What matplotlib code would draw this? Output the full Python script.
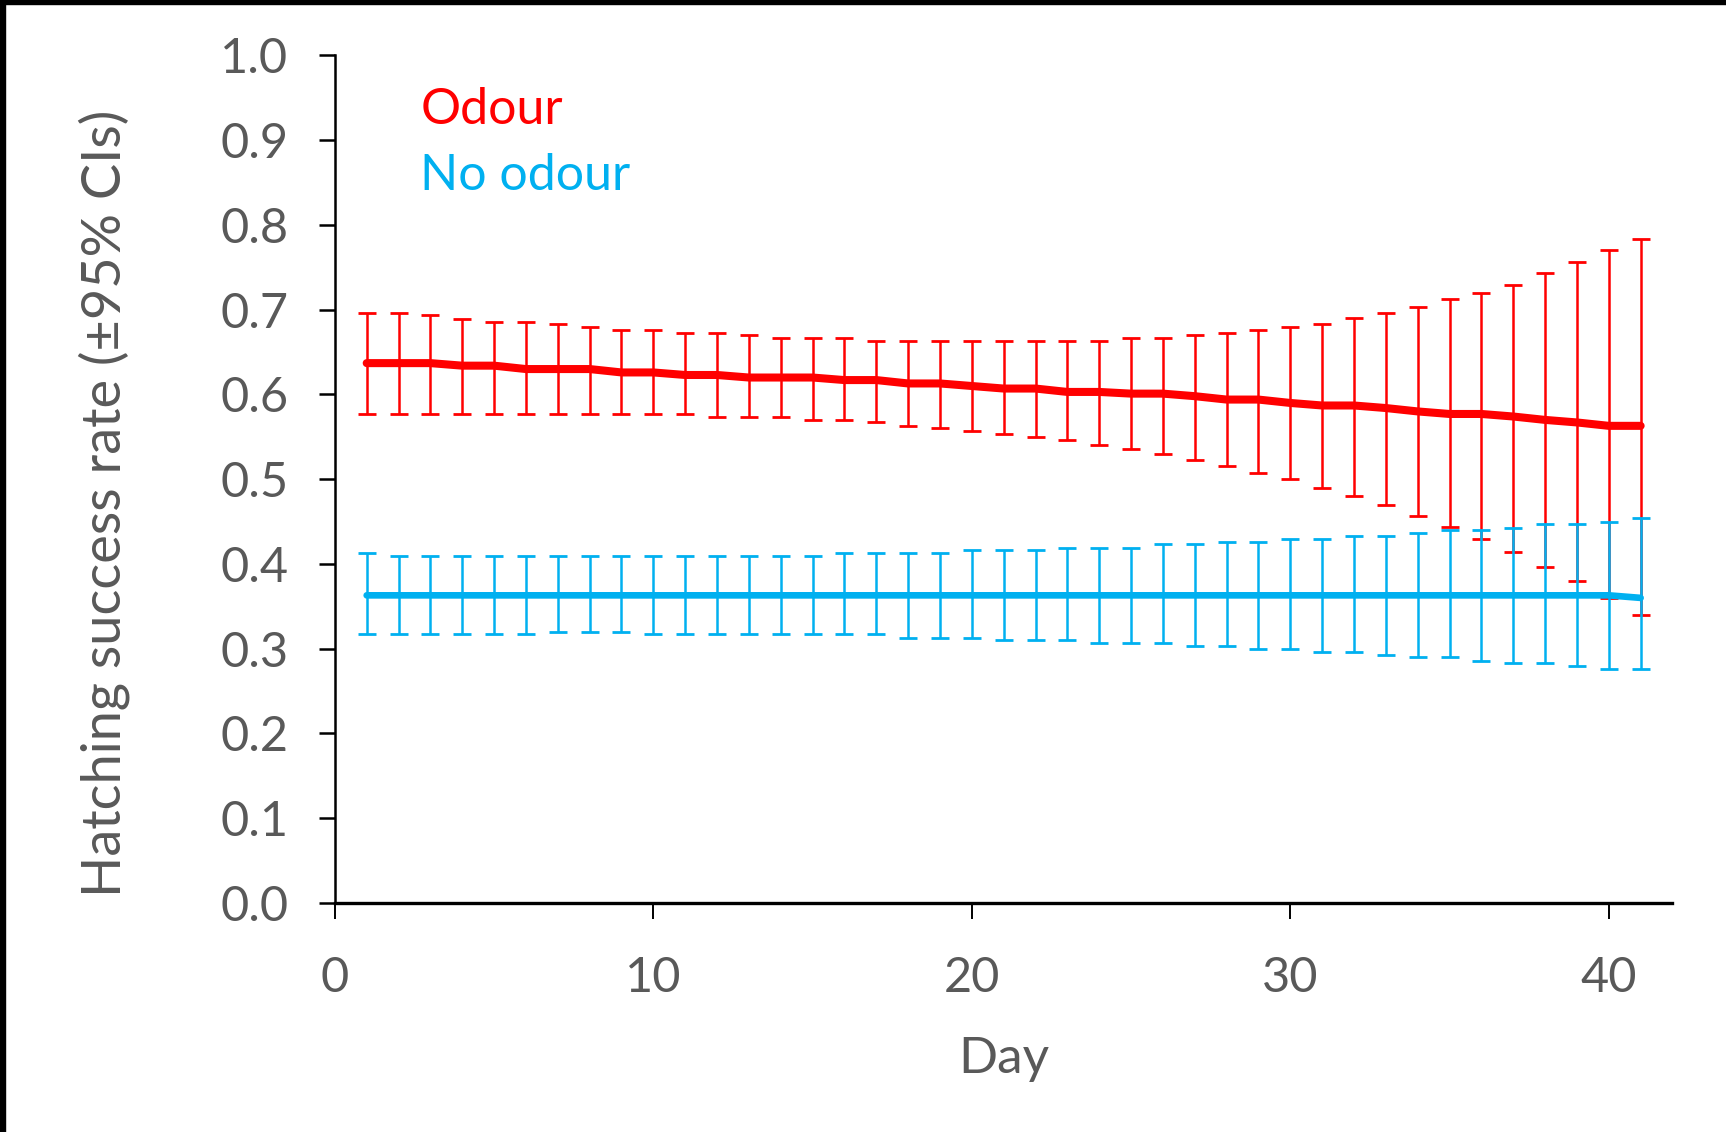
import matplotlib
matplotlib.use('Agg')
import matplotlib.pyplot as plt
from matplotlib.patches import Rectangle

# ---- data ----
days = list(range(1, 42))

odour_mean = [0.637, 0.637, 0.637, 0.634, 0.634, 0.630, 0.630, 0.630, 0.626, 0.626,
              0.623, 0.623, 0.620, 0.620, 0.620, 0.617, 0.617, 0.613, 0.613, 0.610,
              0.607, 0.607, 0.603, 0.603, 0.601, 0.601, 0.598, 0.594, 0.594, 0.590,
              0.587, 0.587, 0.584, 0.580, 0.577, 0.577, 0.574, 0.570, 0.567, 0.563,
              0.563]
odour_upper = [0.696, 0.696, 0.694, 0.689, 0.686, 0.686, 0.683, 0.680, 0.676, 0.676,
               0.673, 0.673, 0.670, 0.667, 0.667, 0.667, 0.663, 0.663, 0.663, 0.663,
               0.663, 0.663, 0.663, 0.663, 0.667, 0.667, 0.670, 0.673, 0.676, 0.680,
               0.683, 0.690, 0.696, 0.703, 0.713, 0.720, 0.729, 0.743, 0.756, 0.770,
               0.783]
odour_lower = [0.577, 0.577, 0.577, 0.577, 0.577, 0.577, 0.577, 0.577, 0.577, 0.577,
               0.577, 0.5735, 0.5735, 0.5735, 0.570, 0.570, 0.567, 0.563, 0.560, 0.557,
               0.553, 0.550, 0.546, 0.540, 0.536, 0.530, 0.523, 0.516, 0.507, 0.500,
               0.490, 0.480, 0.470, 0.457, 0.444, 0.430, 0.414, 0.396, 0.380, 0.360,
               0.340]

noodour_mean = [0.363] * 40 + [0.360]
noodour_upper = [0.413, 0.410, 0.410, 0.410, 0.410, 0.410, 0.410, 0.410, 0.410, 0.410,
                 0.410, 0.410, 0.410, 0.410, 0.410, 0.413, 0.413, 0.413, 0.413, 0.416,
                 0.416, 0.416, 0.419, 0.419, 0.419, 0.423, 0.423, 0.426, 0.426, 0.430,
                 0.430, 0.433, 0.433, 0.437, 0.440, 0.440, 0.443, 0.447, 0.447, 0.450,
                 0.454]
noodour_lower = [0.317, 0.317, 0.317, 0.317, 0.317, 0.317, 0.320, 0.320, 0.320, 0.317,
                 0.317, 0.317, 0.317, 0.317, 0.317, 0.317, 0.317, 0.313, 0.313, 0.313,
                 0.310, 0.310, 0.310, 0.307, 0.307, 0.307, 0.303, 0.303, 0.300, 0.300,
                 0.296, 0.296, 0.293, 0.290, 0.290, 0.286, 0.283, 0.283, 0.280, 0.276,
                 0.276]

RED = '#FF0000'
BLUE = '#00B0F0'
GREY = '#595959'

plt.rcParams['font.family'] = ['Lato', 'DejaVu Sans']

fig = plt.figure(figsize=(17.26, 11.32), dpi=100)
ax = fig.add_axes([0.194, 0.2023, 0.775, 0.7487])


def draw_series(mean, lo, hi, color, lw):
    yerr = [[m - l for m, l in zip(mean, lo)], [h - m for m, h in zip(mean, hi)]]
    ax.errorbar(days, mean, yerr=yerr, fmt='none', ecolor=color,
                elinewidth=1.8, capsize=6.5, capthick=2.0, zorder=2)
    ax.plot(days, mean, color=color, lw=lw, solid_capstyle='round',
            solid_joinstyle='round', zorder=3)


draw_series(odour_mean, odour_lower, odour_upper, RED, 5.8)
draw_series(noodour_mean, noodour_lower, noodour_upper, BLUE, 4.8)

ax.set_xlim(0, 42)
ax.set_ylim(0, 1.0)
ax.set_xticks([0, 10, 20, 30, 40])
ax.set_yticks([i / 10 for i in range(11)])
ax.set_yticklabels([f'{i / 10:.1f}' for i in range(11)])

for s in ['top', 'right']:
    ax.spines[s].set_visible(False)
ax.spines['left'].set_linewidth(1.8)
ax.spines['bottom'].set_linewidth(2.4)
ax.tick_params(axis='y', direction='out', length=11.5, width=1.8,
               labelsize=35, labelcolor=GREY, pad=22)
ax.tick_params(axis='x', direction='out', length=11.5, width=1.4,
               labelsize=35, labelcolor=GREY, pad=27)

ax.set_xlabel('Day', fontsize=37, color=GREY)
ax.set_ylabel('Hatching success rate (±95% CIs)', fontsize=39, color=GREY)
ax.xaxis.set_label_coords(0.5, -0.157)
ax.yaxis.set_label_coords(-0.153, 0.472)

ax.text(0.064, 0.936, 'Odour', transform=ax.transAxes, color=RED,
        fontsize=36, ha='left', va='center')
ax.text(0.064, 0.858, 'No odour', transform=ax.transAxes, color=BLUE,
        fontsize=36, ha='left', va='center')

# thin black frame remnants on left and top edges
fig.patches.append(Rectangle((0, 0), 0.003, 1, transform=fig.transFigure,
                             color='black', zorder=10))
fig.patches.append(Rectangle((0, 0.9965), 1, 0.0035, transform=fig.transFigure,
                             color='black', zorder=10))

fig.savefig('out.png', dpi=100)
